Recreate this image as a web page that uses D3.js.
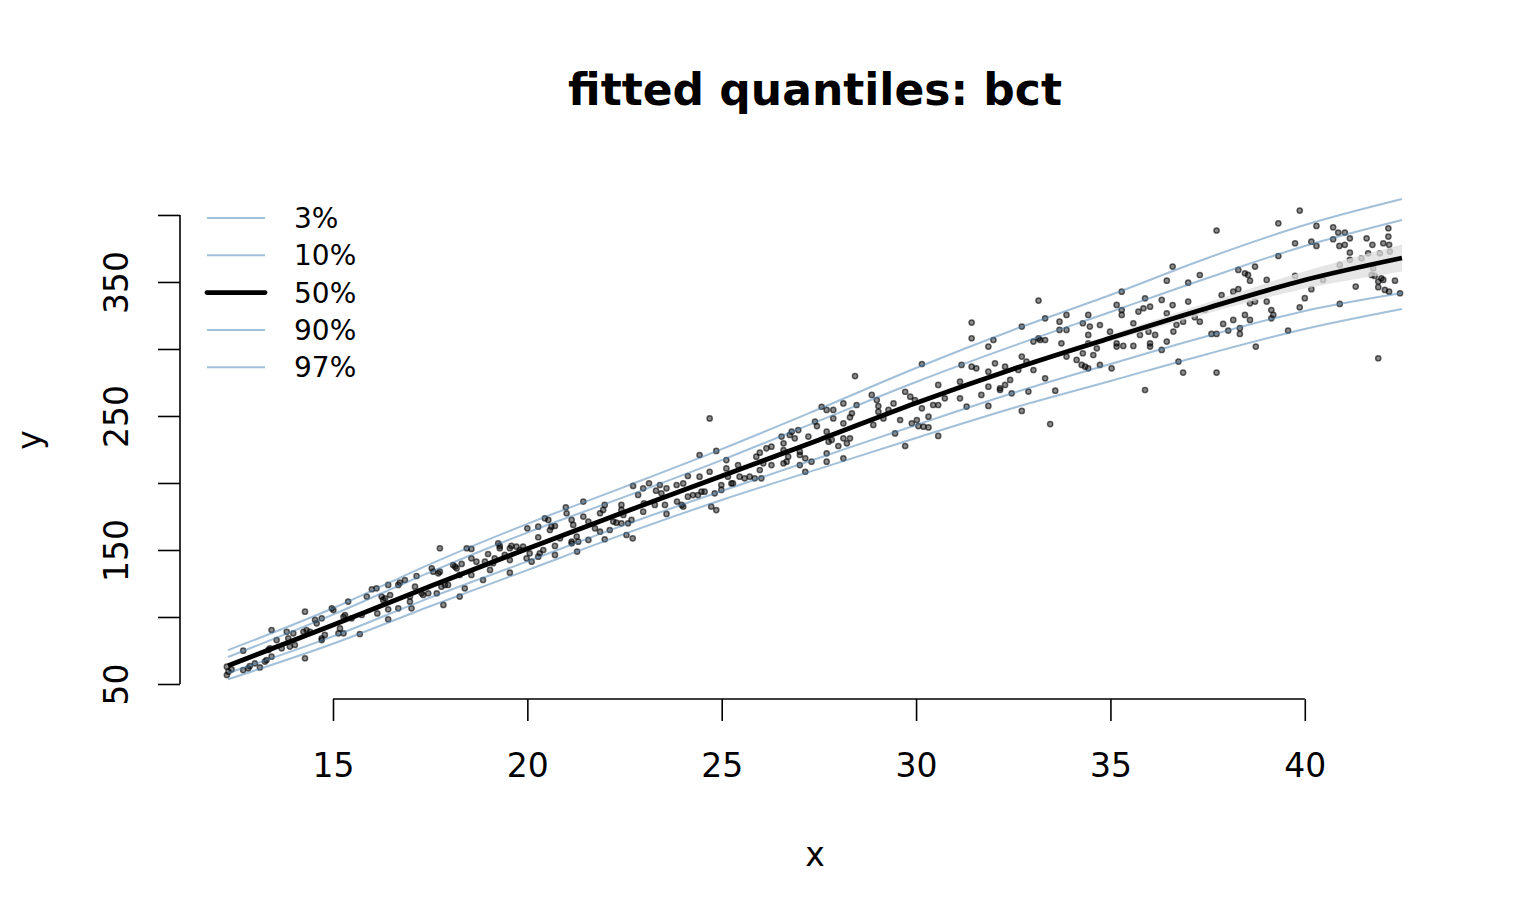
<!DOCTYPE html>
<html>
<head>
<meta charset="utf-8">
<script src="https://cdn.jsdelivr.net/npm/d3@7"></script>
<style>
  body { margin: 0; background: #fff; }
  text { font-family: "DejaVu Sans", sans-serif; }
</style>
</head>
<body>
<div id="canvas"></div>
<script>
"use strict"

// fitted centile curves at these x values
let curveX = [12.3, 15, 17.5, 20, 22.5, 25, 27.5, 30, 32.5, 35, 37.5, 40, 42.5]
let q03 = [53.5, 80.0, 108.0, 135.0, 162.0, 187.3, 210.5, 233.6, 256.0, 276.1, 296.3, 314.9, 329.8]
let q10 = [58.2, 85.5, 114.5, 141.5, 168.7, 194.0, 218.7, 243.3, 267.2, 288.8, 309.7, 328.4, 341.8]
let q50 = [63.6, 94.0, 123.0, 151.0, 178.4, 205.2, 232.1, 259.7, 285.1, 308.2, 330.6, 351.5, 367.9]
let q90 = [70.1, 101.8, 133.5, 163.0, 189.6, 217.1, 246.3, 275.4, 302.3, 327.6, 353.0, 376.9, 396.3]
let q97 = [75.3, 106.5, 139.5, 169.5, 197.1, 225.3, 255.2, 285.8, 314.2, 340.3, 367.9, 392.5, 411.9]
// half width of the grey band round the median
let bandHalf = [1, 1, 1, 1, 1, 1, 1, 1, 1.5, 2.5, 4, 6.5, 10]

let legendLabels = ["3%", "10%", "50%", "90%", "97%"]
let xTicks = [15, 20, 25, 30, 35, 40]
let yTicks = [50, 100, 150, 200, 250, 300, 350, 400]
let yTickLabels = [50, 150, 250, 350]

// observations
let obsX = [
  12.27, 12.27, 12.31, 12.39, 12.69, 12.69, 12.82, 12.86, 12.99, 13.12, 13.25, 13.29, 13.34, 13.38, 13.42, 13.42,
  13.55, 13.68, 13.81, 13.85, 13.89, 13.98, 14.02, 14.24, 14.28, 14.28, 14.32, 14.41, 14.54, 14.58, 14.71, 14.71,
  14.71, 14.79, 14.97, 15.01, 15.14, 15.18, 15.27, 15.27, 15.31, 15.39, 15.48, 15.69, 15.74, 15.87, 16.00, 16.12,
  16.14, 16.25, 16.29, 16.34, 16.42, 16.42, 16.42, 16.47, 16.68, 16.68, 16.72, 16.85, 16.98, 16.98, 17.02, 17.11,
  17.15, 17.28, 17.32, 17.45, 17.54, 17.58, 17.67, 17.71,
  17.75, 17.75, 17.79, 17.88, 17.84, 17.96, 18.09, 18.14, 18.18, 18.26, 18.26, 18.31, 18.39, 18.44, 18.56, 18.56,
  18.56, 18.69, 18.86, 18.91, 18.99, 19.04, 19.12, 19.16, 19.25, 19.29, 19.29, 19.42, 19.55, 19.55, 19.55, 19.59,
  19.72, 19.81, 19.89, 19.98, 20.00, 20.06, 20.11, 20.28, 20.28, 20.28, 20.32, 20.41, 20.45, 20.54, 20.58, 20.62,
  20.71, 20.71, 20.71, 20.84, 20.99, 21.01, 21.14, 21.14, 21.14, 21.18, 21.27, 21.28, 21.31, 21.44, 21.44, 21.57,
  21.57, 21.74, 21.87, 21.87, 21.95, 21.99, 21.99, 22.12, 22.21, 22.29, 22.42, 22.42, 22.42, 22.47, 22.55, 22.59,
  22.68, 22.71, 22.72, 22.85, 22.98, 22.98, 23.00, 23.13, 23.28, 23.31, 23.41, 23.45, 23.54, 23.58, 23.58, 23.84,
  23.85,
  24.01, 23.97, 24.01, 24.13, 24.13, 24.26, 24.39, 24.43, 24.43, 24.48, 24.56, 24.69, 24.69, 24.73, 24.82, 24.86,
  24.86, 24.99, 24.99, 25.12, 25.12, 25.16, 25.25, 25.29, 25.42, 25.46, 25.59, 25.72, 25.85, 25.89, 25.98, 25.98,
  26.02, 26.07, 26.15, 26.28, 26.28, 26.54, 26.59, 26.59, 26.59, 26.67, 26.71, 26.75, 26.80, 26.88, 26.97, 27.01,
  27.01, 27.01, 27.15, 27.15, 27.23, 27.31, 27.40, 27.45, 27.57, 27.70, 27.70, 27.70, 27.70, 27.75, 27.83, 27.87,
  27.87, 28.00, 28.13, 28.13, 28.13, 28.13, 28.22, 28.30, 28.30, 28.35, 28.43, 28.47, 28.86, 28.90, 28.99, 29.03,
  29.03, 29.16, 29.29, 29.42, 29.46, 29.59, 29.72, 29.72, 29.85, 29.89, 29.97, 30.02, 30.06, 30.15, 30.15, 30.19,
  30.32, 30.32,
  30.44, 30.57, 30.57, 30.57, 30.74, 31.13, 31.13, 31.17, 31.30, 31.43, 31.43, 31.43, 31.55, 31.68, 31.86, 31.86,
  31.86, 31.86, 31.99, 32.03, 32.16, 32.16, 32.29, 32.29, 32.42, 32.46, 32.63, 32.72, 32.72, 32.72, 32.84, 32.89,
  33.02, 33.02, 33.15, 33.15, 33.19, 33.32, 33.32, 33.32, 33.45, 33.58, 33.69, 33.69, 33.74, 33.87, 33.87, 33.87,
  34.13, 34.26, 34.29, 34.29, 34.35, 34.43, 34.43, 34.43, 34.43, 34.47, 34.56, 34.65, 34.73, 34.73, 34.99, 35.03,
  35.16, 35.16, 35.16, 35.29, 35.29, 35.29, 35.33, 35.59, 35.59, 35.72, 35.76, 35.85, 35.89, 35.89, 35.98, 36.02,
  36.02, 36.02, 36.15, 36.32, 36.32, 36.45, 36.45, 36.45, 36.75,
  36.60, 36.60, 36.62, 36.70, 36.87, 36.87, 37.00, 37.00, 37.17, 37.30, 37.30, 37.43, 37.60, 37.73, 37.73, 37.73,
  37.86, 37.90, 38.03, 38.16, 38.16, 38.29, 38.29, 38.33, 38.33, 38.46, 38.46, 38.54, 38.59, 38.59, 38.59, 38.72,
  38.72, 38.74, 39.02, 39.02, 39.14, 39.14, 39.19, 39.32, 39.32, 39.57, 39.75, 39.75, 39.87, 39.87, 40.00, 40.17,
  40.17, 40.30, 40.30, 40.47, 40.73, 40.73, 40.86, 40.89, 40.90, 40.90, 41.03, 41.03, 41.16, 41.16, 41.16, 41.31,
  41.46, 41.59, 41.63, 41.72, 41.74, 41.76, 41.80, 41.89, 41.89, 41.89, 41.93, 41.97, 42.02, 42.02, 42.06, 42.15,
  42.15, 42.17, 42.17, 42.19, 42.32, 42.45
]
let obsY = [
  62.9, 56.7, 59.2, 60.9, 74.9, 60.4, 61.7, 63.4, 65.4, 62.4, 66.7, 67.9, 75.4, 76.6, 70.4, 90.3,
  82.8, 76.6, 89.0, 84.1, 77.9, 87.8, 79.1, 89.0, 104.0, 69.2, 90.3, 89.0, 97.8, 95.3, 99.0, 84.1,
  82.8, 86.6, 106.5, 105.2, 87.8, 91.5, 100.2, 87.8, 101.5, 111.5, 99.0, 87.3, 101.5, 115.2, 120.7, 121.4,
  102.7, 115.2, 112.7, 113.9, 105.7, 123.9, 98.3, 116.4, 106.5, 123.9, 125.6, 127.6, 115.2, 111.4, 106.5, 122.6,
  130.6, 117.7, 116.4, 117.7, 136.3, 133.8, 117.7, 132.6,
  151.3, 133.8, 122.6, 123.9, 109.0, 123.9, 138.8, 137.6, 136.3, 131.4, 115.2, 139.6, 121.4, 151.3, 150.8, 143.8,
  131.4, 141.3, 127.6, 141.3, 147.0, 135.1, 140.1, 143.8, 155.0, 153.0, 151.3, 146.3, 151.3, 133.1, 142.5, 153.0,
  152.5, 150.0, 152.5, 143.8, 166.2, 147.5, 141.3, 167.4, 159.5, 145.0, 147.5, 150.0, 173.6, 172.4, 164.9, 167.4,
  167.9, 153.0, 146.3, 158.7, 181.9, 177.4, 172.4, 156.2, 155.0, 168.7, 160.0, 148.8, 156.2, 186.1, 174.9, 171.2,
  157.5, 166.2, 177.4, 163.7, 179.9, 183.6, 158.0, 164.9, 171.2, 170.4, 183.6, 179.9, 169.9, 176.1, 161.2, 169.9,
  172.4, 158.7, 197.8, 191.1, 196.0, 178.6, 184.8, 199.8, 183.6, 194.3, 198.5, 192.3, 183.6, 196.0, 176.9, 198.5,
  186.1,
  199.7, 183.6, 182.3, 205.2, 189.8, 191.0, 191.0, 220.9, 204.7, 193.5, 193.5, 248.2, 208.4, 182.3, 192.3, 179.8,
  223.9, 198.5, 194.8, 217.1, 210.9, 204.7, 199.7, 199.7, 213.4, 204.7, 203.5, 204.7, 203.5, 219.6, 222.6, 209.7,
  203.5, 214.7, 225.9, 227.1, 213.4, 234.6, 229.6, 224.6, 214.7, 215.9, 219.6, 235.8, 238.3, 233.3, 239.5, 223.4,
  220.9, 213.4, 218.4, 208.4, 234.6, 215.9, 245.8, 242.5, 256.9, 254.5, 238.3, 222.1, 215.9, 230.8, 232.1, 254.5,
  248.2, 227.6, 259.4, 244.5, 233.3, 218.4, 229.6, 249.0, 233.3, 252.0, 279.8, 258.2, 265.7, 243.3, 261.9, 257.4,
  253.2, 248.2, 254.5, 259.4, 237.0, 247.0, 268.1, 227.6, 264.4, 244.5, 261.9, 247.0, 242.5, 288.8, 255.7, 242.0,
  249.5, 241.5,
  258.2, 273.2, 258.2, 235.1, 263.2, 275.6, 263.2, 288.1, 257.0, 319.7, 308.0, 286.8, 285.6, 265.7, 301.8, 283.1,
  271.9, 257.5, 306.7, 289.3, 270.7, 269.4, 286.8, 273.2, 276.9, 266.9, 284.3, 316.7, 294.3, 253.8, 290.6, 268.2,
  284.3, 305.5, 336.1, 308.0, 306.7, 322.9, 306.7, 278.1, 244.0, 268.9, 320.4, 314.2, 304.2, 325.4, 314.2, 294.3,
  291.8, 288.1, 319.2, 296.8, 286.8, 325.4, 310.5, 304.2, 285.6, 316.7, 295.5, 300.5, 317.9, 288.1, 312.9, 285.6,
  301.8, 304.2, 332.9, 342.8, 329.1, 325.4, 302.3, 319.2, 302.3, 327.9, 310.5, 330.4, 337.8, 269.4, 312.9, 331.6,
  304.2, 301.8, 310.5, 336.6, 299.3, 326.6, 351.0, 305.5, 290.6,
  361.5, 332.8, 313.0, 318.0, 320.4, 282.4, 349.5, 335.4, 323.7, 355.2, 320.4, 329.1, 311.2, 388.4, 311.2, 282.4,
  340.3, 318.7, 313.7, 342.8, 321.7, 344.6, 359.0, 315.5, 311.2, 356.5, 325.4, 355.3, 351.0, 334.1, 321.7, 361.5,
  335.4, 301.8, 351.5, 335.4, 329.1, 322.9, 325.4, 393.8, 369.4, 313.7, 378.9, 354.5, 403.3, 331.1, 337.9, 380.1,
  344.6, 391.8, 376.9, 351.5, 390.8, 381.9, 386.9, 376.9, 362.7, 333.6, 386.9, 377.7, 382.6, 371.9, 366.5, 346.6,
  367.7, 382.6, 371.4, 355.3, 377.7, 360.2, 354.5, 293.1, 350.3, 346.1, 371.4, 352.8, 351.5, 378.9, 344.1, 390.1,
  383.9, 377.7, 342.8, 372.7, 351.0, 341.6
]

let drawing = d3.select("#canvas")
    .append("svg")
    .attr("width", 1540)
    .attr("height", 924)

// plot region, R style 4% padding round the data
let xScale = d3.scaleLinear().domain([11.09, 43.71]).range([181, 1449])
let yScale = d3.scaleLinear().domain([39.55, 416.4]).range([698, 193])

let points = d3.range(obsX.length).map(i => [obsX[i], obsY[i]])

// scatter of the data
drawing.append("g")
    .selectAll("circle")
    .data(points)
    .join("circle")
    .attr("cx", d => xScale(d[0]))
    .attr("cy", d => yScale(d[1]))
    .attr("r", 2.6)
    .attr("fill", "rgba(0,0,0,0.45)")
    .attr("stroke", "rgba(0,0,0,0.6)")
    .attr("stroke-width", 1.5)

let curveLine = d3.line()
    .x((d, i) => xScale(curveX[i]))
    .y(d => yScale(d))
    .curve(d3.curveMonotoneX)

let blueCurves = [q03, q10, q90, q97]
drawing.append("g")
    .selectAll("path")
    .data(blueCurves)
    .join("path")
    .attr("d", d => curveLine(d))
    .attr("fill", "none")
    .attr("stroke", "#4682b4")
    .attr("stroke-opacity", 0.5)
    .attr("stroke-width", 2)

// grey band round the median
let band = d3.area()
    .x((d, i) => xScale(curveX[i]))
    .y0((d, i) => yScale(d - bandHalf[i]))
    .y1((d, i) => yScale(d + bandHalf[i]))
    .curve(d3.curveMonotoneX)

drawing.append("path")
    .attr("d", band(q50))
    .attr("fill", "rgba(222,222,222,0.75)")

drawing.append("path")
    .attr("d", curveLine(q50))
    .attr("fill", "none")
    .attr("stroke", "black")
    .attr("stroke-width", 4.8)

// x axis
let xAxis = drawing.append("g")
    .attr("transform", "translate(0,699)")
    .call(d3.axisBottom(xScale).tickValues(xTicks).tickSize(22).tickSizeOuter(0).tickPadding(33))
xAxis.select(".domain").remove()
xAxis.selectAll(".tick line").attr("stroke", "black").attr("stroke-width", 1.6)
xAxis.selectAll(".tick text")
    .attr("font-size", 33)
    .attr("font-family", "DejaVu Sans")
    .attr("fill", "black")
xAxis.append("line")
    .attr("x1", xScale(xTicks[0]))
    .attr("x2", xScale(xTicks[xTicks.length - 1]))
    .attr("stroke", "black")
    .attr("stroke-width", 1.6)

// y axis
let yAxis = drawing.append("g")
    .attr("transform", "translate(180,0)")
    .call(d3.axisLeft(yScale).tickValues(yTicks).tickSize(22).tickSizeOuter(0)
        .tickFormat(d => yTickLabels.includes(d) ? d : ""))
yAxis.select(".domain").remove()
yAxis.selectAll(".tick line").attr("stroke", "black").attr("stroke-width", 1.6)
yAxis.selectAll(".tick text")
    .attr("x", null)
    .attr("dy", null)
    .attr("transform", "translate(-52,0) rotate(-90)")
    .attr("text-anchor", "middle")
    .attr("font-size", 33)
    .attr("font-family", "DejaVu Sans")
    .attr("fill", "black")
yAxis.append("line")
    .attr("y1", yScale(yTicks[0]))
    .attr("y2", yScale(yTicks[yTicks.length - 1]))
    .attr("stroke", "black")
    .attr("stroke-width", 1.6)

// titles
drawing.append("text")
    .attr("x", 815)
    .attr("y", 105)
    .attr("text-anchor", "middle")
    .attr("font-size", 44)
    .attr("font-weight", "bold")
    .text("fitted quantiles: bct")

drawing.append("text")
    .attr("x", 815)
    .attr("y", 866)
    .attr("text-anchor", "middle")
    .attr("font-size", 33)
    .text("x")

drawing.append("text")
    .attr("transform", "translate(41,440) rotate(-90)")
    .attr("text-anchor", "middle")
    .attr("font-size", 33)
    .text("y")

// legend
let legend = drawing.append("g")
    .selectAll("g")
    .data(legendLabels)
    .join("g")
    .attr("transform", (d, i) => "translate(0," + (218 + i * 37.3) + ")")

legend.append("line")
    .attr("x1", 207)
    .attr("x2", 265)
    .attr("stroke", d => d === "50%" ? "black" : "#4682b4")
    .attr("stroke-opacity", d => d === "50%" ? 1 : 0.5)
    .attr("stroke-width", d => d === "50%" ? 4.8 : 2)
    .attr("stroke-linecap", d => d === "50%" ? "round" : "butt")

legend.append("text")
    .attr("x", 294)
    .attr("dy", "0.36em")
    .attr("font-size", 28)
    .text(d => d)
</script>
</body>
</html>
